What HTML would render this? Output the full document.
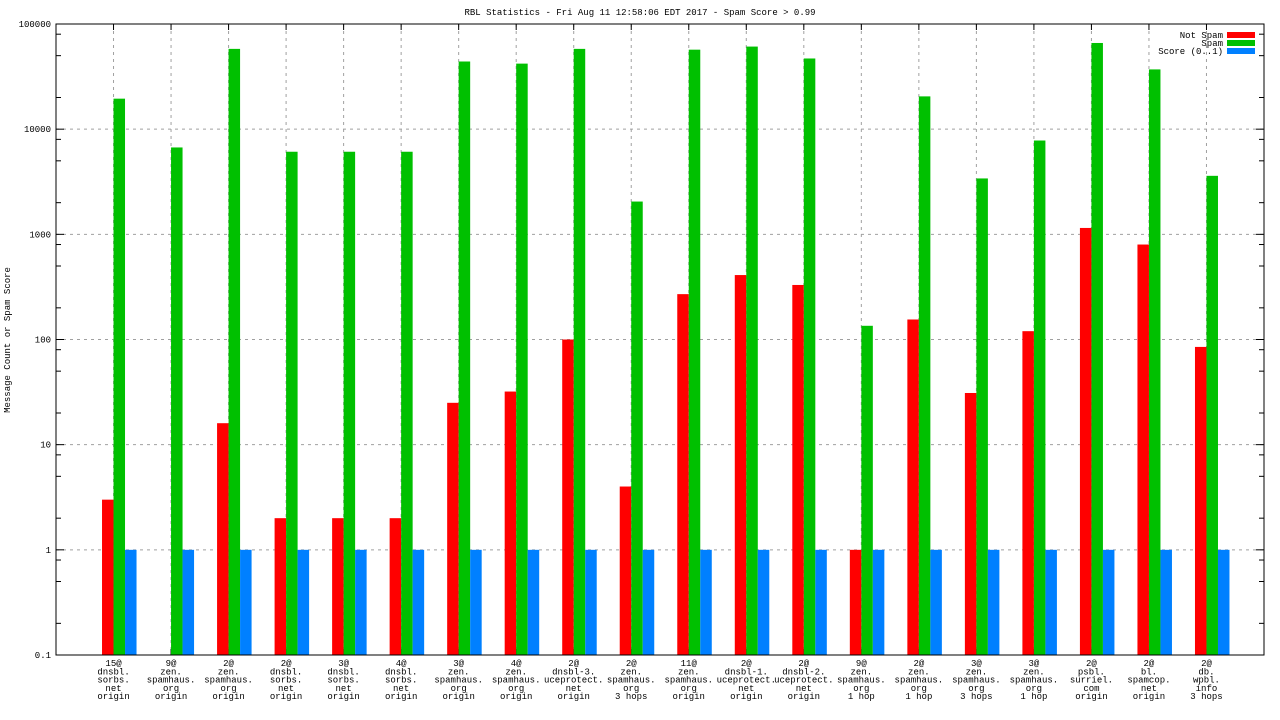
<!DOCTYPE html>
<html><head><meta charset="utf-8"><style>
html,body{margin:0;padding:0;background:#fff}
svg{display:block}
text{font-family:"Liberation Mono","DejaVu Sans Mono",monospace;font-size:9px;fill:#000}
</style></head><body>
<svg id="chart" width="1280" height="720" xmlns="http://www.w3.org/2000/svg"></svg>
<script>
const categories = [
 ["15@","dnsbl.","sorbs.","net","origin"],
 ["9@","zen.","spamhaus.","org","origin"],
 ["2@","zen.","spamhaus.","org","origin"],
 ["2@","dnsbl.","sorbs.","net","origin"],
 ["3@","dnsbl.","sorbs.","net","origin"],
 ["4@","dnsbl.","sorbs.","net","origin"],
 ["3@","zen.","spamhaus.","org","origin"],
 ["4@","zen.","spamhaus.","org","origin"],
 ["2@","dnsbl-3.","uceprotect.","net","origin"],
 ["2@","zen.","spamhaus.","org","3 hops"],
 ["11@","zen.","spamhaus.","org","origin"],
 ["2@","dnsbl-1.","uceprotect.","net","origin"],
 ["2@","dnsbl-2.","uceprotect.","net","origin"],
 ["9@","zen.","spamhaus.","org","1 hop"],
 ["2@","zen.","spamhaus.","org","1 hop"],
 ["3@","zen.","spamhaus.","org","3 hops"],
 ["3@","zen.","spamhaus.","org","1 hop"],
 ["2@","psbl.","surriel.","com","origin"],
 ["2@","bl.","spamcop.","net","origin"],
 ["2@","db.","wpbl.","info","3 hops"]
];
const notSpam = [3,0,16,2,2,2,25,32,100,4,270,410,330,1,155,31,120,1150,800,85];
const spam = [19500,6700,58000,6100,6100,6100,44000,42000,58000,2050,57000,61000,47000,135,20500,3400,7800,66000,37000,3600];
const score = [1,1,1,1,1,1,1,1,1,1,1,1,1,1,1,1,1,1,1,1];
const yTickLabels = ["0.1","1","10","100","1000","10000","100000"];
const yTickValues = [0.1,1,10,100,1000,10000,100000];

const svg = document.getElementById('chart');
const NS = "http://www.w3.org/2000/svg";
const L=56,R=1264,T=24,B=655;
const yMinLog=-1,yMaxLog=5;
const slots = categories.length+1;
const slotW=(R-L)/slots;
function xC(i){return L+slotW*(i+1);}
function yS(v){return B-(Math.log10(v)-yMinLog)/(yMaxLog-yMinLog)*(B-T);}
function el(tag,attrs,txt){const e=document.createElementNS(NS,tag);for(const k in attrs)e.setAttribute(k,attrs[k]);if(txt!==undefined)e.textContent=txt;svg.appendChild(e);return e;}

let t=el('text',{x:640,y:15,'text-anchor':'middle'},'RBL Statistics - Fri Aug 11 12:58:06 EDT 2017 - Spam Score > 0.99');


t=el('text',{x:10,y:340,'text-anchor':'middle',transform:'rotate(-90 10 340)'},'Message Count or Spam Score');



yTickValues.forEach((v,i)=>{
  const y=yS(v);
  if(i>0&&i<yTickValues.length-1){
    const g=el('line',{x1:L,x2:R,y1:y,y2:y,stroke:'#a0a0a0','stroke-dasharray':'3,4','stroke-width':1});
    
    
  }
  const lb=el('text',{x:L-5,y:y+3,'text-anchor':'end'},yTickLabels[i]);
  
  
  el('line',{x1:L,x2:L+8,y1:y,y2:y,stroke:'#000'});
  el('line',{x1:R,x2:R-8,y1:y,y2:y,stroke:'#000'});
  if(i<yTickValues.length-1){
    [2,5,8].forEach(m=>{const ym=yS(v*m);el('line',{x1:L,x2:L+5,y1:ym,y2:ym,stroke:'#000'});el('line',{x1:R,x2:R-5,y1:ym,y2:ym,stroke:'#000'});});
  }
});
categories.forEach((c,i)=>{
  const x=xC(i);
  const g=el('line',{x1:x,x2:x,y1:T,y2:B,stroke:'#a0a0a0','stroke-dasharray':'3,4'});
  
  
  el('line',{x1:x,x2:x,y1:B,y2:B-6,stroke:'#000'});
  el('line',{x1:x,x2:x,y1:T,y2:T+6,stroke:'#000'});
  c.forEach((s,j)=>{
    const lb=el('text',{x:x,y:666+j*8.3,'text-anchor':'middle'},s);
    
    
  });
});

const bw=slotW*0.2;
function bars(arr,off,color,name){
  arr.forEach((v,i)=>{
    if(v<=0)return;
    const x=xC(i)+off*bw;const y=yS(v);
    const r=el('rect',{x:x,y:y,width:bw,height:B-y,fill:color});
    
    
  });
}
bars(notSpam,-1,'#ff0000','bar-not-spam');
bars(spam,0,'#00c000','bar-spam');
bars(score,1,'#0080ff','bar-score');

const bd=el('rect',{x:L,y:T,width:R-L,height:B-T,fill:'none',stroke:'#000','stroke-width':1});



const leg=[["Not Spam",'#ff0000'],["Spam",'#00c000'],["Score (0..1)",'#0080ff']];
leg.forEach((l,i)=>{
  const y=35+i*8;
  const lt=el('text',{x:1223,y:y+3,'text-anchor':'end'},l[0]);
  
  
  const sw=el('rect',{x:1227,y:y-3,width:28,height:6,fill:l[1]});
  
  
});
</script>
</body></html>
